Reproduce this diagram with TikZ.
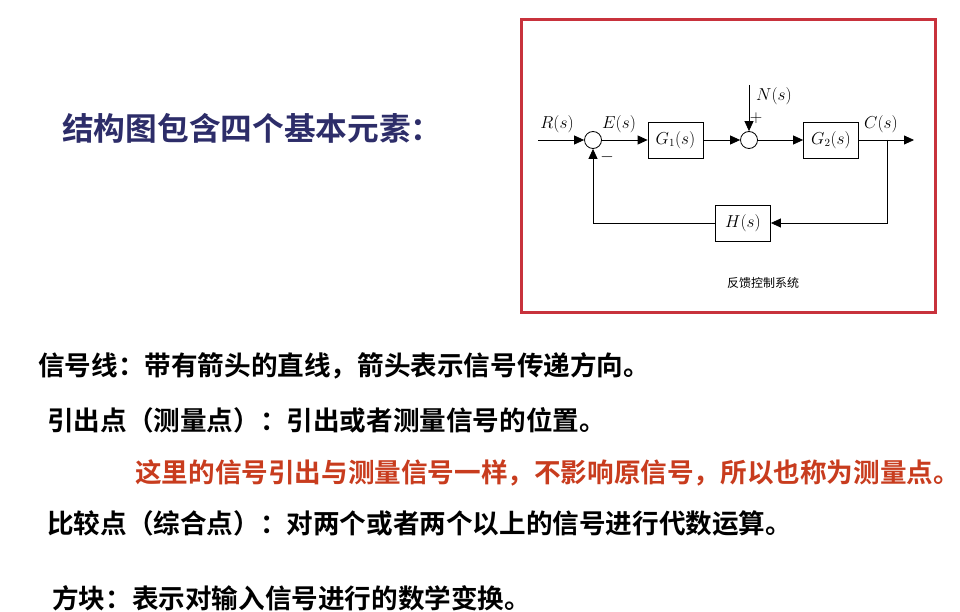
\documentclass[tikz,border=0pt]{standalone}
\usepackage{fontspec}
\newfontfamily\cjk{Noto Sans CJK SC}[BoldFont={Noto Sans CJK SC Bold}]
\usetikzlibrary{arrows.meta}
\definecolor{frame}{RGB}{200,50,60}
\definecolor{navy}{RGB}{45,45,105}
\definecolor{redtxt}{RGB}{200,60,30}
\tikzset{
  arr/.style={-{Triangle[length=10pt,width=9pt]}, line width=0.8pt},
  blk/.style={draw, line width=0.8pt, minimum width=55pt, minimum height=36pt, inner sep=0pt, font=\fontsize{16}{16}\selectfont},
  sumc/.style={draw, circle, line width=0.8pt, minimum size=17pt, inner sep=0pt},
  lbl/.style={font=\fontsize{16}{16}\selectfont, inner sep=0pt},
  body/.style={anchor=west, inner sep=0pt, font=\cjk\bfseries\fontsize{26.6}{26.6}\selectfont},
}
\begin{document}
\begin{tikzpicture}[x=1pt,y=-1pt]
\useasboundingbox[fill=white] (0,0) rectangle (960,612);
% frame
\draw[frame, line width=3pt] (521.5,19.5) rectangle (935,312);
% title
\node[anchor=west, inner sep=0pt, text=navy, font=\cjk\bfseries\fontsize{31.7}{31.7}\selectfont] (title) at (62,128) {结构图包含四个基本元素：};
% diagram
\node[sumc] (s1) at (593,140) {};
\node[sumc] (s2) at (749,140) {};
\node[blk] (g1) at (675.5,140) {$G_1(s)$};
\node[blk] (g2) at (831,140) {$G_2(s)$};
\node[blk] (h) at (743,223) {$H(s)$};
\coordinate (in) at (538,140);
\coordinate (ntop) at (749,85);
\coordinate (br) at (887,140);
\coordinate (out) at (914,140);
\draw[arr] (in) -- (s1.west);
\draw[arr] (s1.east) -- (g1.west);
\draw[arr] (g1.east) -- (s2.west);
\draw[arr] (ntop) -- (s2.north);
\draw[arr] (s2.east) -- (g2.west);
\draw[arr] (g2.east) -- (out);
\draw[arr] (br) |- (h.east);
\draw[arr] (h.west) -| (s1.south);
\node[lbl] (lr) at (557,124) {$R(s)$};
\node[lbl] (le) at (619,124) {$E(s)$};
\node[lbl] (ln) at (774,96) {$N(s)$};
\node[lbl] (lc) at (881,124) {$C(s)$};
\node[lbl] (lplus) at (756,118) {$+$};
\node[lbl] (lminus) at (607,157) {$-$};
\node[inner sep=0pt, font=\cjk\fontsize{12}{12}\selectfont] (cap) at (763,283) {反馈控制系统};
% body text
\node[body] (t1) at (38,366) {信号线：带有箭头的直线，箭头表示信号传递方向。};
\node[body] (t2) at (47,420) {引出点（测量点）：引出或者测量信号的位置。};
\node[body, text=redtxt] (t3) at (135,473) {这里的信号引出与测量信号一样，不影响原信号，所以也称为测量点。};
\node[body] (t4) at (47,523) {比较点（综合点）：对两个或者两个以上的信号进行代数运算。};
\node[body] (t5) at (52,598) {方块：表示对输入信号进行的数学变换。};
\end{tikzpicture}
\end{document}
